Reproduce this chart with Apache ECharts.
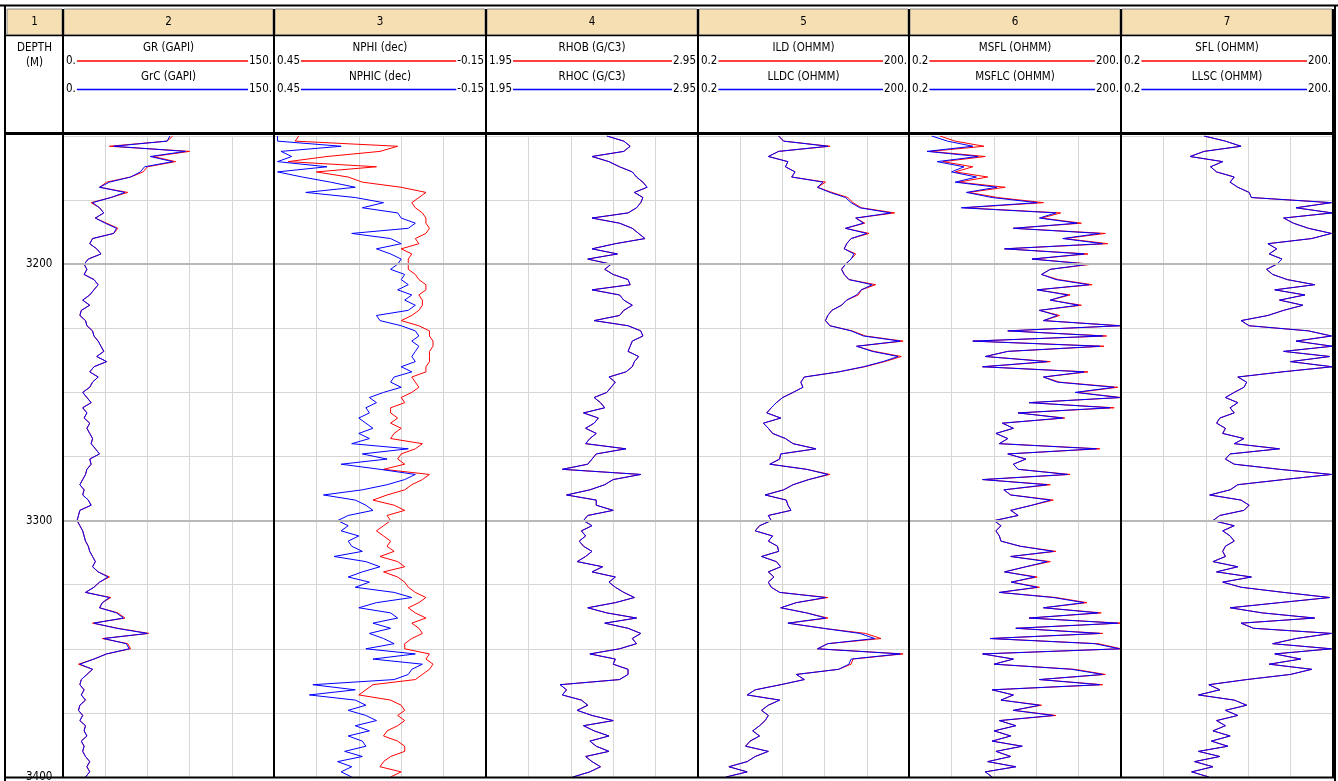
<!DOCTYPE html>
<html>
<head>
<meta charset="utf-8">
<script src="https://cdn.jsdelivr.net/npm/echarts@6/dist/echarts.min.js"></script>
<style>
  html, body { margin: 0; padding: 0; background: #fff; }
  #chart { width: 1338px; height: 781px; }
</style>
</head>
<body>
<div id="chart"></div>
<script>
// Depth samples (m), one every 2 m from 3150 to 3400.
const DEPTH = [
  3150,3152,3154,3156,3158, 3160,3162,3164,3166,3168, 3170,3172,3174,3176,3178,
  3180,3182,3184,3186,3188, 3190,3192,3194,3196,3198, 3200,3202,3204,3206,3208,
  3210,3212,3214,3216,3218, 3220,3222,3224,3226,3228, 3230,3232,3234,3236,3238,
  3240,3242,3244,3246,3248, 3250,3252,3254,3256,3258, 3260,3262,3264,3266,3268,
  3270,3272,3274,3276,3278, 3280,3282,3284,3286,3288, 3290,3292,3294,3296,3298,
  3300,3302,3304,3306,3308, 3310,3312,3314,3316,3318, 3320,3322,3324,3326,3328,
  3330,3332,3334,3336,3338, 3340,3342,3344,3346,3348, 3350,3352,3354,3356,3358,
  3360,3362,3364,3366,3368, 3370,3372,3374,3376,3378, 3380,3382,3384,3386,3388,
  3390,3392,3394,3396,3398, 3400
];

// Track 2 - gamma ray (GAPI)
const GR = [
  78,74,33,90,64, 80,60,57,48,31, 26,46,34,20,26, 29,23,31,39,36, 21,19,24,27,18,
  15,17,15,22,25, 22,19,14,19,13, 12,16,17,21,22, 25,27,29,24,31, 22,19,25,21,19,
  14,17,20,14,17, 15,19,17,19,21, 20,23,26,19,20, 17,16,14,12,15, 14,18,20,12,11,
  10,12,14,15,16, 18,19,21,23,21, 25,33,26,22,16, 34,28,26,39,44, 21,39,61,28,46,
  48,31,22,11,21, 17,13,12,15,13, 16,12,11,14,12, 16,15,17,13,15, 14,16,19,17,19,
  16
];
const GRC = [
  76,74,36,87,62, 78,58,55,48,33, 26,44,34,21,26, 29,23,30,38,36, 21,19,24,27,18,
  15,17,15,22,25, 22,19,14,19,13, 12,16,17,21,22, 25,27,29,24,31, 22,19,25,21,19,
  14,17,20,14,17, 15,19,17,19,21, 20,23,26,19,20, 17,16,14,12,15, 14,18,20,12,11,
  10,12,14,15,16, 18,19,21,23,21, 25,32,26,22,16, 33,28,26,38,43, 22,38,60,29,45,
  47,31,22,12,21, 17,13,12,15,13, 16,12,11,14,12, 16,15,17,13,15, 14,16,19,17,19,
  16
];

// Track 3 - neutron porosity (dec)
const NPHI = [
  0.38,0.39,0.10,0.15,0.30, 0.41,0.16,0.33,0.24,0.20, 0.09,0.02,0.04,0.06,0.05,
  0.03,0.02,0.02,0.01,0.02, 0.05,0.04,0.09,0.06,0.07, 0.07,0.07,0.05,0.04,0.02,
  0.02,0.04,0.03,0.03,0.04, 0.06,0.09,0.04,0.01,0.01, 0.00,0.00,0.01,0.01,0.01,
  0.02,0.02,0.06,0.05,0.04, 0.06,0.09,0.08,0.12,0.12, 0.10,0.12,0.09,0.11,0.12,
  0.03,0.05,0.09,0.10,0.08, 0.14,0.01,0.03,0.06,0.08, 0.13,0.17,0.11,0.08,0.13,
  0.12,0.14,0.16,0.14,0.12, 0.13,0.11,0.15,0.10,0.08, 0.14,0.10,0.08,0.07,0.05,
  0.02,0.04,0.07,0.05,0.02, 0.06,0.04,0.03,0.06,0.08, 0.08,0.01,0.02,0.00,0.01,
  0.03,0.05,0.17,0.19,0.21, 0.12,0.09,0.08,0.10,0.08, 0.10,0.13,0.14,0.10,0.08,
  0.08,0.12,0.14,0.15,0.09, 0.12
];
const NPHIC = [
  0.44,0.44,0.26,0.43,0.40, 0.44,0.30,0.44,0.37,0.29, 0.22,0.36,0.22,0.14,0.20,
  0.10,0.09,0.05,0.07,0.23, 0.12,0.09,0.16,0.12,0.09, 0.10,0.12,0.08,0.09,0.07,
  0.10,0.06,0.08,0.05,0.07, 0.16,0.15,0.09,0.05,0.04, 0.06,0.04,0.05,0.06,0.05,
  0.09,0.06,0.11,0.12,0.09, 0.14,0.18,0.16,0.19,0.18, 0.21,0.19,0.17,0.21,0.18,
  0.23,0.07,0.20,0.13,0.26, 0.15,0.05,0.08,0.13,0.20, 0.31,0.22,0.19,0.17,0.24,
  0.27,0.24,0.26,0.21,0.24, 0.23,0.20,0.28,0.19,0.15, 0.20,0.24,0.18,0.22,0.11,
  0.06,0.16,0.21,0.12,0.10, 0.17,0.12,0.18,0.14,0.11, 0.19,0.05,0.17,0.03,0.06,
  0.07,0.11,0.34,0.22,0.35, 0.22,0.19,0.24,0.19,0.16, 0.22,0.18,0.24,0.20,0.19,
  0.25,0.20,0.27,0.23,0.26, 0.23
];

// Track 4 - bulk density (g/cc)
const RHOC = [
  2.52,2.60,2.63,2.60,2.45, 2.53,2.58,2.64,2.66,2.69, 2.71,2.65,2.69,2.68,2.66,
  2.62,2.45,2.58,2.64,2.67, 2.70,2.56,2.45,2.57,2.43, 2.54,2.51,2.55,2.62,2.63,
  2.45,2.58,2.60,2.64,2.60, 2.58,2.46,2.62,2.68,2.69, 2.64,2.63,2.62,2.67,2.65,
  2.64,2.61,2.53,2.56,2.54, 2.52,2.46,2.49,2.51,2.41, 2.48,2.46,2.42,2.47,2.44,
  2.42,2.61,2.47,2.45,2.43, 2.31,2.68,2.55,2.51,2.44, 2.33,2.47,2.47,2.55,2.43,
  2.41,2.45,2.40,2.42,2.39, 2.41,2.45,2.42,2.38,2.50, 2.45,2.56,2.53,2.56,2.60,
  2.65,2.56,2.43,2.52,2.66, 2.51,2.62,2.68,2.64,2.66, 2.58,2.44,2.56,2.55,2.62,
  2.62,2.58,2.30,2.33,2.31, 2.40,2.43,2.38,2.45,2.55, 2.41,2.46,2.53,2.44,2.47,
  2.53,2.42,2.45,2.49,2.44, 2.36
];
const RHOB = RHOC; // raw density hides under the corrected curve

// Track 5 - deep resistivity (ohm.m)
const ILD = [
  2.8,3.3,15,2.8,2.0, 3.8,3.5,4.8,4.3,13, 10,16,27,32,42, 125,35,47,25,54,
  30,26,24,35,30, 25,22,24,28,67, 42,38,26,22,16, 14,13,15,31,48,
  165,36,64,155,90, 47,20,6.5,5.8,6.2, 4.5,3.2,2.6,2.2,1.9, 3.0,1.7,2.0,2.3,3.5,
  4.5,9.5,3.0,2.9,2.1, 7.0,15,7.5,4.5,3.3, 1.8,3.6,3.8,4.2,2.0, 2.2,1.5,1.3,2.3,2.0,
  2.7,2.8,1.6,2.6,3.0, 2.0,2.4,2.0,2.2,2.9, 14,5,3.0,7,14, 3.8,12,48,80,14,
  10,165,32,30,20, 5,6.5,3.0,1.3,1.0, 2.9,2.0,1.6,2.0,1.8, 1.5,1.2,1.5,1.1,0.95,
  2.0,1.3,1.0,0.55,1.0, 0.5
];
const LLDC = [
  2.8,3.3,14,2.8,2.0, 3.8,3.5,4.8,4.3,12, 10,15,25,30,40, 110,35,45,25,50,
  30,26,24,33,30, 25,22,24,28,60, 42,36,26,22,16, 14,13,15,30,45,
  150,36,60,140,85, 45,20,6.5,5.8,6.2, 4.5,3.2,2.6,2.2,1.9, 3.0,1.7,2.0,2.3,3.5,
  4.5,9.5,3.0,2.9,2.1, 7.0,14,7.5,4.5,3.3, 1.8,3.6,3.8,4.2,2.0, 2.2,1.5,1.3,2.3,2.0,
  2.7,2.8,1.6,2.6,3.0, 2.0,2.4,2.0,2.2,2.9, 13,5,3.0,7,13, 3.8,12,40,65,14,
  10,150,30,28,20, 5,6.5,3.0,1.3,1.0, 2.9,2.0,1.6,2.0,1.8, 1.5,1.2,1.5,1.1,0.95,
  2.0,1.3,1.0,0.55,1.0, 0.5
];

// Track 6 - micro resistivity (ohm.m)
const MSFL = [
  0.55,0.9,2.3,0.4,2.4, 0.6,1.6,0.9,2.6,1.0, 4.6,1.4,3.6,16,1.2, 28,15,55,6,120,
  32,130,4.5,68,11, 78,20,15,26,78, 13,38,20,55,14, 27,16,200,5,125,
  1.6,115,5,2.4,20, 2.2,68,16,27,180, 48,200,10,160,7, 32,4.2,6,3.4,5,
  3.8,100,5,9,6, 7,38,2.2,20,4.4, 5.5,22,11,5.5,7, 3.2,4.0,3.4,3.8,4.0,
  7.5,24,5.5,20,9, 4.5,13,5.6,14,3.8, 24,66,16,105,10, 195,6.5,110,2.8,95,
  200,2.2,6,3.2,44, 120,14,110,3.0,6, 4.0,15,6,24,3.8, 6.5,3.2,5.5,3.0,8,
  3.4,5.5,2.6,6.5,2.4, 3.0
];
const MSFLC = [
  0.42,0.7,1.6,0.36,1.9, 0.5,1.2,0.8,1.8,0.9, 3.5,1.3,3.0,13,1.1, 24,14,48,6,100,
  30,110,4.5,60,11, 70,20,15,24,70, 13,35,20,50,14, 25,16,190,5,110,
  1.6,100,5,2.4,18, 2.2,60,16,25,160, 45,190,10,140,7, 30,4.2,6,3.4,5,
  3.8,90,5,9,6, 7,35,2.2,18,4.4, 5.5,20,11,5.5,7, 3.2,4.0,3.4,3.8,4.0,
  7.5,22,5.5,18,9, 4.5,12,5.6,13,3.8, 22,60,16,95,10, 180,6.5,100,2.8,85,
  190,2.2,6,3.2,40, 110,14,100,3.0,6, 4.0,14,6,22,3.8, 6.5,3.2,5.5,3.0,8,
  3.4,5.5,2.6,6.5,2.4, 3.0
];

// Track 7 - shallow resistivity (ohm.m)
const LLSC = [
  3.0,6,10,3.0,1.9, 5.5,3.7,4.5,8,7, 9,13,14,190,60, 195,40,55,90,190,
  100,24,32,25,38, 32,23,28,45,110, 30,80,35,75,40, 24,10,13,90,190,
  60,195,40,180,50, 195,38,9,12,11, 8,6,9,7,8, 5,4.5,6,5.5,11,
  8,35,7,6,8, 35,190,40,9,7, 3.6,10,13,11,5, 4,8,5.5,7,8,
  6,5.5,6,4,9, 4.5,14,5.5,10,40, 180,35,7,20,110, 10,15,190,60,28,
  190,30,70,25,100, 50,12,3.5,5,2.5, 8,12,6,9,4.5, 6,4,7,3.8,6.5,
  2.5,5,2.2,4.0,2.0, 3.5
];
const SFL = LLSC; // raw SFL hides under the corrected curve

const TRACK_NUMBERS = ['1', '2', '3', '4', '5', '6', '7'];
const DEPTH_MIN = 3150, DEPTH_MAX = 3400;
const MAJOR_DEPTHS = [3200, 3300];

// ---- layout ----
const FONT = '"Liberation Sans Narrow","DejaVu Sans Condensed","Liberation Sans",Arial,sans-serif';
const FONT_SIZE = 11.5;
const BORDERS = [6, 63, 274, 486, 698, 909, 1121, 1333];
const PLOT_TOP = 136, PLOT_BOTTOM = 777;
const RED = '#ff0000', BLUE = '#0000ff';
const GRID_LIGHT = '#d6d6d6', GRID_BOLD = '#b8b8b8';
const TAN = '#f6dfb3';

const TRACKS = [
  { axis: { type: 'value', min: 0, max: 150 },
    curves: [{ name: 'GR (GAPI)', data: GR, color: RED, lo: '0.', hi: '150.' },
             { name: 'GrC (GAPI)', data: GRC, color: BLUE, lo: '0.', hi: '150.' }] },
  { axis: { type: 'value', min: -0.15, max: 0.45, inverse: true },
    curves: [{ name: 'NPHI (dec)', data: NPHI, color: RED, lo: '0.45', hi: '-0.15' },
             { name: 'NPHIC (dec)', data: NPHIC, color: BLUE, lo: '0.45', hi: '-0.15' }] },
  { axis: { type: 'value', min: 1.95, max: 2.95 },
    curves: [{ name: 'RHOB (G/C3)', data: RHOB, color: RED, lo: '1.95', hi: '2.95' },
             { name: 'RHOC (G/C3)', data: RHOC, color: BLUE, lo: '1.95', hi: '2.95' }] },
  { axis: { type: 'log', min: 0.2, max: 200 },
    curves: [{ name: 'ILD (OHMM)', data: ILD, color: RED, lo: '0.2', hi: '200.' },
             { name: 'LLDC (OHMM)', data: LLDC, color: BLUE, lo: '0.2', hi: '200.' }] },
  { axis: { type: 'log', min: 0.2, max: 200 },
    curves: [{ name: 'MSFL (OHMM)', data: MSFL, color: RED, lo: '0.2', hi: '200.' },
             { name: 'MSFLC (OHMM)', data: MSFLC, color: BLUE, lo: '0.2', hi: '200.' }] },
  { axis: { type: 'log', min: 0.2, max: 200 },
    curves: [{ name: 'SFL (OHMM)', data: SFL, color: RED, lo: '0.2', hi: '200.' },
             { name: 'LLSC (OHMM)', data: LLSC, color: BLUE, lo: '0.2', hi: '200.' }] }
];

const chart = echarts.init(document.getElementById('chart'));

const measure = (() => {
  const ctx = document.createElement('canvas').getContext('2d');
  ctx.font = `${FONT_SIZE}px ${FONT}`;
  return (s) => ctx.measureText(s).width;
})();

const grids = [], xAxes = [], yAxes = [], series = [];

function depthAxis(gi, withLabels) {
  return {
    type: 'value', gridIndex: gi, inverse: true,
    min: DEPTH_MIN, max: DEPTH_MAX, interval: 25,
    axisLine: { show: false }, axisTick: { show: false },
    axisLabel: withLabels ? {
      show: true, inside: true, margin: 20, align: 'left',
      showMaxLabel: true, showMinLabel: false,
      color: '#000', fontFamily: FONT, fontSize: FONT_SIZE,
      formatter: (v) => (v % 100 === 0 ? String(v) : '')
    } : { show: false },
    splitLine: { show: !withLabels, lineStyle: { color: GRID_LIGHT, width: 1 } }
  };
}

// depth track
grids.push({ left: BORDERS[0], width: BORDERS[1] - BORDERS[0], top: PLOT_TOP,
             height: PLOT_BOTTOM - PLOT_TOP, outerBoundsMode: 'none' });
xAxes.push({ type: 'value', gridIndex: 0, min: 0, max: 1, show: false });
yAxes.push(depthAxis(0, true));

TRACKS.forEach((t, k) => {
  const gi = k + 1;
  grids.push({ left: BORDERS[gi], width: BORDERS[gi + 1] - BORDERS[gi], top: PLOT_TOP,
               height: PLOT_BOTTOM - PLOT_TOP, outerBoundsMode: 'none' });
  // five equal divisions, whatever the curve scale
  const gridAxis = xAxes.length;
  xAxes.push({ type: 'value', gridIndex: gi, min: 0, max: 5, interval: 1,
               axisLine: { show: false }, axisTick: { show: false }, axisLabel: { show: false },
               splitLine: { show: true, lineStyle: { color: GRID_LIGHT, width: 1 } } });
  const dataAxis = xAxes.length;
  xAxes.push(Object.assign({ gridIndex: gi, show: false, splitLine: { show: false } }, t.axis));
  yAxes.push(depthAxis(gi, false));

  series.push({
    type: 'line', xAxisIndex: gridAxis, yAxisIndex: gi, data: [], silent: true, z: 1,
    markLine: {
      silent: true, symbol: 'none', label: { show: false }, animation: false,
      lineStyle: { color: GRID_BOLD, width: 2, type: 'solid' },
      data: MAJOR_DEPTHS.map((d) => ({ yAxis: d }))
    }
  });
  t.curves.forEach((c, ci) => {
    series.push({
      name: c.name, type: 'line', xAxisIndex: dataAxis, yAxisIndex: gi, z: 3 + ci,
      showSymbol: false, silent: true, clip: true,
      lineStyle: { color: c.color, width: 1 },
      data: DEPTH.map((d, i) => [c.data[i], d])
    });
  });
});

// ---- header and frame ----
const g = [];
const txt = (x, y, s, align) => ({
  type: 'text', x, y, z: 20, silent: true,
  style: { text: s, fill: '#000', font: `${FONT_SIZE}px ${FONT}`, align: align || 'center', verticalAlign: 'middle' }
});
const line = (x1, y1, x2, y2, stroke, w) => ({
  type: 'line', z: 30, silent: true,
  shape: { x1, y1, x2, y2 }, style: { stroke, lineWidth: w }
});

for (let i = 0; i < 7; i++) {
  const l = BORDERS[i], r = BORDERS[i + 1];
  g.push({ type: 'rect', z: 10, silent: true,
           shape: { x: l + 1, y: 9, width: r - l - 2, height: 26 },
           style: { fill: TAN, stroke: '#8a8a8a', lineWidth: 1 } });
  g.push(txt((l + r) / 2, 22, TRACK_NUMBERS[i]));
}
g.push(txt((BORDERS[0] + BORDERS[1]) / 2, 48, 'DEPTH'));
g.push(txt((BORDERS[0] + BORDERS[1]) / 2, 63, '(M)'));

TRACKS.forEach((t, k) => {
  const l = BORDERS[k + 1], r = BORDERS[k + 2];
  t.curves.forEach((c, ci) => {
    const yName = 48 + ci * 29, yLine = 61 + ci * 28.5;
    g.push(txt((l + r) / 2, yName, c.name));
    g.push(txt(l + 3, yLine, c.lo, 'left'));
    g.push(txt(r - 2, yLine, c.hi, 'right'));
    g.push(line(l + 3 + measure(c.lo) + 1, yLine, r - 2 - measure(c.hi) - 1, yLine, c.color, 1.5));
  });
});

// frame
g.push(line(0, 5.5, 1338, 5.5, '#000', 2));
g.push(line(5, 5, 5, 781, '#000', 2));
g.push(line(1335, 5, 1335, 781, '#000', 2));
g.push(line(6, 35.5, 1334, 35.5, '#000', 1.5));
g.push(line(6, 133.5, 1334, 133.5, '#000', 3));
g.push(line(6, 777.5, 1334, 777.5, '#000', 2));
for (let i = 1; i < BORDERS.length - 1; i++) {
  g.push(line(BORDERS[i], 9, BORDERS[i], 778, '#000', 2));
}
g.push(line(BORDERS[7], 9, BORDERS[7], 778, '#000', 2));

chart.setOption({
  animation: false,
  backgroundColor: '#fff',
  grid: grids,
  xAxis: xAxes,
  yAxis: yAxes,
  series: series,
  graphic: { elements: g }
});
</script>
</body>
</html>
